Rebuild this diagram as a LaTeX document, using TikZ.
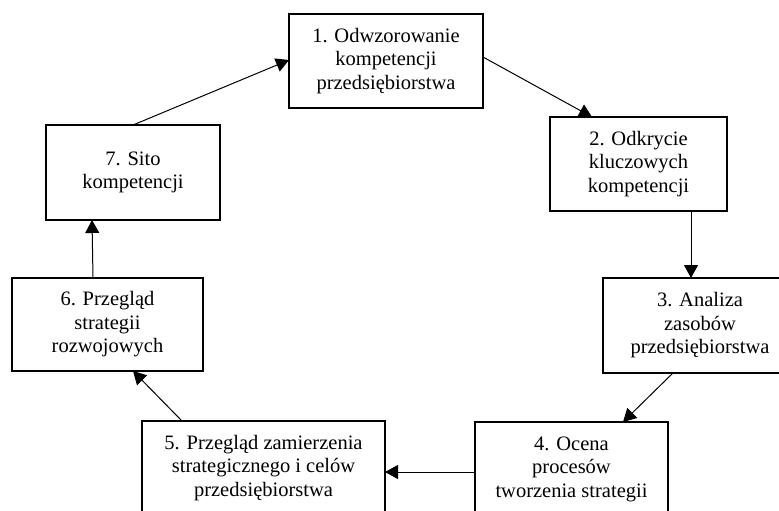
\documentclass[tikz,border=0pt]{standalone}
\usepackage{fontspec}
\setmainfont{Liberation Serif}
\usetikzlibrary{arrows.meta}
\begin{document}
\begin{tikzpicture}[x=1pt,y=-1pt,
  stagebox/.style={draw=black, line width=1.1pt, fill=white, rectangle, inner sep=0pt, outer sep=0pt,
    align=center, font=\fontsize{20.5}{23.5}\selectfont, text=black},
  flow/.style={line width=1pt, -{Triangle[length=13pt,width=14pt]}}]
\useasboundingbox (0,0) rectangle (779,511);
\clip (0,0) rectangle (779,511);
\fill[white] (0,0) rectangle (779,511);
\node[stagebox, minimum width=194pt, minimum height=94pt] (b1) at (386,61) {1. Odwzorowanie\\kompetencji\\przedsiębiorstwa};
\node[stagebox, minimum width=177pt, minimum height=94pt] (b2) at (638.5,164) {2. Odkrycie\\kluczowych\\kompetencji};
\node[stagebox, minimum width=194pt, minimum height=95pt] (b3) at (700,325.5) {3. Analiza\\zasobów\\przedsiębiorstwa};
\node[stagebox, minimum width=193pt, minimum height=94pt] (b4) at (571.5,469) {4. Ocena\\procesów\\tworzenia strategii};
\node[stagebox, minimum width=243pt, minimum height=94pt] (b5) at (263.5,468) {5. Przegląd zamierzenia\\strategicznego i celów\\przedsiębiorstwa};
\node[stagebox, minimum width=191pt, minimum height=93pt] (b6) at (107.5,324.5) {6. Przegląd\\strategii\\rozwojowych};
\node[stagebox, minimum width=174pt, minimum height=95pt] (b7) at (133,172.5) {7. Sito\\kompetencji};
\draw[flow] ([xshift=87pt]b7.north west) -- ([yshift=-46pt]b1.north west);
\draw[flow] ([yshift=-43pt]b1.north east) -- ([xshift=42pt]b2.north west);
\draw[flow] ([xshift=141pt]b2.south west) -- ([xshift=88pt]b3.north west);
\draw[flow] ([xshift=70pt]b3.south west) -- ([xshift=-45pt]b4.north east);
\draw[flow] ([yshift=-50pt]b4.north west) -- ([yshift=-51pt]b5.north east);
\draw[flow] ([xshift=40pt]b5.north west) -- ([xshift=-70pt]b6.south east);
\draw[flow] ([xshift=81pt]b6.north west) -- ([xshift=46pt]b7.south west);
\end{tikzpicture}
\end{document}
